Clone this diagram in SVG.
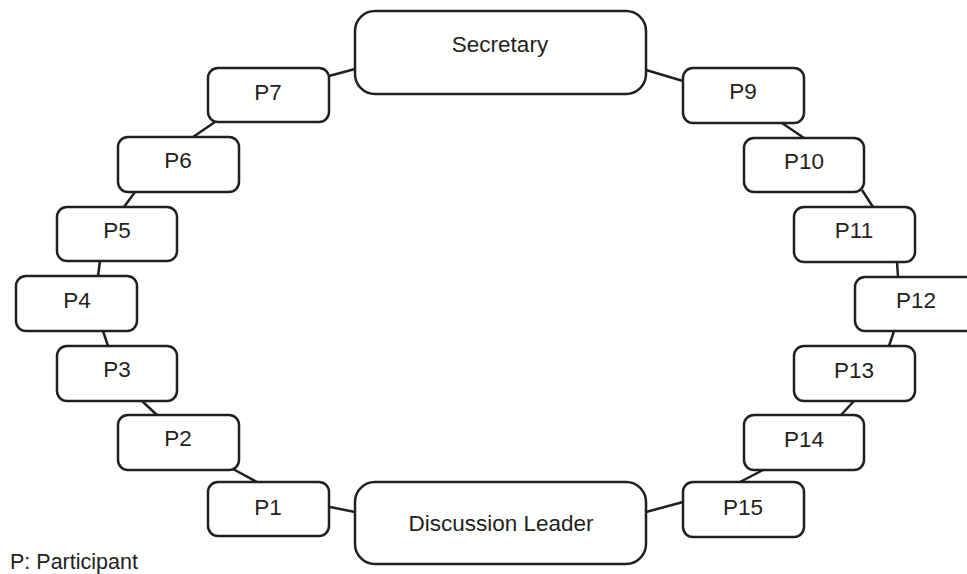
<svg xmlns="http://www.w3.org/2000/svg" width="967" height="574" viewBox="0 0 967 574">
<style>
.b{fill:#fff;stroke:#231f20;stroke-width:2.5}
.t{font-family:"Liberation Sans",Arial,sans-serif;font-size:22.5px;fill:#231f20;text-anchor:middle}
.c line{stroke:#231f20;stroke-width:2.5}
</style>
<rect width="967" height="574" fill="#fff"/>
<g class="c" id="connectors">
<line x1="329" y1="76" x2="355" y2="69"/>
<line x1="215" y1="122" x2="193" y2="137"/>
<line x1="135" y1="192" x2="124" y2="207"/>
<line x1="100" y1="261" x2="98" y2="276"/>
<line x1="103" y1="331" x2="108" y2="346"/>
<line x1="142" y1="401" x2="157" y2="415"/>
<line x1="233" y1="469" x2="257" y2="482"/>
<line x1="330" y1="507" x2="355" y2="512"/>
<line x1="646" y1="512" x2="683" y2="502"/>
<line x1="740" y1="482" x2="763" y2="470"/>
<line x1="841" y1="415" x2="854" y2="401"/>
<line x1="889" y1="346" x2="894" y2="331"/>
<line x1="898" y1="277" x2="897" y2="262"/>
<line x1="873" y1="207" x2="862" y2="190"/>
<line x1="804" y1="138" x2="782" y2="123"/>
<line x1="646" y1="70" x2="683" y2="81"/>
</g>
<g id="secretary"><rect class="b" x="355" y="11" width="291" height="83" rx="20"/><text class="t" x="500" y="52">Secretary</text></g>
<g id="leader"><rect class="b" x="355" y="482" width="291" height="82" rx="20"/><text class="t" x="501" y="531">Discussion Leader</text></g>
<g id="p7"><rect class="b" x="208" y="68" width="121" height="54" rx="10"/><text class="t" x="268" y="100">P7</text></g>
<g id="p6"><rect class="b" x="118" y="137" width="121" height="55" rx="10"/><text class="t" x="178" y="168">P6</text></g>
<g id="p5"><rect class="b" x="57" y="207" width="120" height="54" rx="10"/><text class="t" x="117" y="238">P5</text></g>
<g id="p4"><rect class="b" x="16" y="276" width="121" height="55" rx="10"/><text class="t" x="77" y="308">P4</text></g>
<g id="p3"><rect class="b" x="57" y="346" width="120" height="55" rx="10"/><text class="t" x="117" y="377">P3</text></g>
<g id="p2"><rect class="b" x="118" y="415" width="121" height="55" rx="10"/><text class="t" x="178" y="446">P2</text></g>
<g id="p1"><rect class="b" x="208" y="482" width="121" height="54" rx="10"/><text class="t" x="268" y="515">P1</text></g>
<g id="p9"><rect class="b" x="683" y="68" width="121" height="55" rx="10"/><text class="t" x="743" y="99">P9</text></g>
<g id="p10"><rect class="b" x="744" y="138" width="120" height="54" rx="10"/><text class="t" x="804" y="169">P10</text></g>
<g id="p11"><rect class="b" x="794" y="207" width="121" height="55" rx="10"/><text class="t" x="854" y="238">P11</text></g>
<g id="p12"><rect class="b" x="855" y="277" width="121" height="54" rx="10"/><text class="t" x="916" y="308">P12</text></g>
<g id="p13"><rect class="b" x="794" y="346" width="121" height="55" rx="10"/><text class="t" x="854" y="378">P13</text></g>
<g id="p14"><rect class="b" x="744" y="415" width="120" height="55" rx="10"/><text class="t" x="804" y="447">P14</text></g>
<g id="p15"><rect class="b" x="683" y="482" width="121" height="55" rx="10"/><text class="t" x="743" y="515">P15</text></g>
<text x="10" y="569" font-family="'Liberation Sans',Arial,sans-serif" font-size="21.5" fill="#231f20">P: Participant</text>
</svg>
